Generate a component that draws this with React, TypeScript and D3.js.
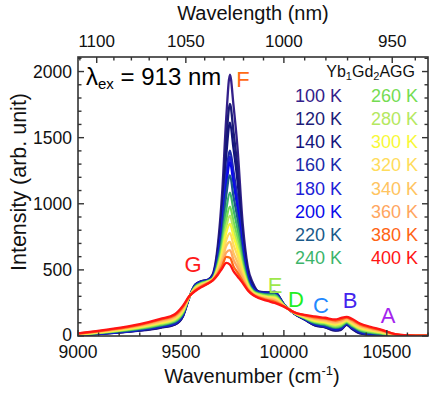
import React from "react";
import * as d3 from "d3";

// ---------- data ----------
const temperatures = [100, 120, 140, 160, 180, 200, 220, 240, 260, 280, 300, 320, 340, 360, 380, 400];

const wavenumbers = [
  9000, 9150, 9300, 9400, 9470, 9510, 9540, 9570, 9600, 9630,
  9655, 9680, 9700, 9720, 9738, 9755, 9775, 9800, 9825, 9850,
  9880, 9920, 9955, 10000, 10050, 10100, 10150, 10200, 10250, 10275,
  10305, 10330, 10370, 10420, 10480, 10540, 10600, 10700,
];

const I100 = [5, 20, 40, 62, 85, 150, 290, 390, 415, 425, 470, 700, 1080, 1650, 1977, 1750, 1420, 850, 520, 400, 335, 330, 335, 240, 170, 125, 80, 65, 40, 45, 85, 55, 20, 8, 3, 0, 0, 0];
const I120 = [5, 21, 42, 64, 87, 152, 290, 389, 414, 424, 462, 662, 989, 1474, 1755, 1548, 1265, 778, 492, 386, 334, 328, 332, 240, 170, 126, 82, 67, 43, 48, 87, 57, 22, 10, 4, 0, 0, 0];
const I140 = [6, 22, 43, 66, 90, 155, 291, 387, 412, 423, 457, 639, 932, 1364, 1614, 1422, 1168, 733, 474, 377, 332, 326, 330, 239, 171, 127, 84, 69, 45, 50, 89, 60, 25, 12, 6, 1, 0, 0];
const I160 = [7, 23, 45, 69, 93, 158, 291, 385, 411, 422, 450, 606, 852, 1210, 1402, 1246, 1032, 670, 450, 364, 330, 324, 327, 238, 171, 129, 87, 72, 49, 54, 91, 63, 28, 14, 7, 2, 1, 0];
const I180 = [7, 24, 47, 71, 95, 160, 291, 384, 409, 421, 448, 597, 829, 1166, 1357, 1196, 993, 652, 443, 360, 329, 322, 324, 238, 171, 130, 89, 75, 51, 57, 93, 65, 30, 16, 9, 2, 1, 0];
const I200 = [8, 25, 49, 74, 99, 164, 292, 382, 407, 420, 447, 590, 812, 1133, 1315, 1158, 964, 638, 438, 358, 327, 319, 321, 237, 172, 131, 92, 77, 55, 60, 95, 68, 33, 19, 10, 3, 1, 0];
const I220 = [8, 27, 51, 77, 103, 168, 292, 379, 405, 418, 443, 571, 766, 1065, 1215, 1057, 886, 602, 424, 350, 324, 316, 316, 236, 172, 133, 95, 81, 59, 65, 98, 72, 37, 22, 12, 3, 1, 0];
const I240 = [10, 29, 55, 82, 109, 174, 293, 375, 402, 416, 439, 552, 721, 957, 1084, 956, 809, 566, 410, 343, 320, 311, 310, 235, 173, 136, 100, 87, 66, 72, 103, 78, 43, 27, 16, 5, 2, 1];
const I260 = [11, 31, 59, 88, 115, 180, 294, 371, 398, 414, 435, 536, 681, 880, 978, 868, 741, 535, 398, 337, 316, 305, 303, 233, 174, 138, 106, 93, 72, 79, 108, 84, 49, 32, 19, 6, 2, 1];
const I280 = [12, 34, 63, 93, 122, 187, 295, 367, 394, 411, 433, 524, 653, 825, 910, 805, 692, 512, 389, 332, 312, 300, 296, 232, 175, 141, 111, 99, 79, 86, 113, 89, 54, 36, 22, 7, 2, 1];
const I300 = [13, 36, 67, 99, 129, 194, 296, 362, 390, 408, 430, 514, 630, 781, 848, 755, 654, 494, 382, 329, 307, 294, 288, 230, 176, 144, 117, 105, 87, 95, 118, 96, 61, 42, 26, 8, 3, 1];
const I320 = [15, 39, 72, 105, 135, 200, 296, 359, 387, 406, 428, 503, 601, 726, 778, 692, 605, 472, 373, 324, 304, 289, 281, 229, 176, 147, 123, 111, 94, 102, 123, 102, 67, 47, 30, 9, 3, 1];
const I340 = [16, 42, 76, 111, 143, 208, 297, 354, 383, 403, 426, 491, 573, 680, 712, 629, 557, 450, 364, 320, 299, 283, 274, 227, 177, 150, 129, 118, 101, 110, 128, 109, 74, 53, 33, 11, 4, 1];
const I360 = [17, 44, 80, 116, 149, 214, 298, 350, 379, 401, 424, 481, 550, 632, 650, 578, 518, 432, 357, 316, 295, 278, 267, 226, 178, 153, 134, 123, 108, 117, 133, 115, 80, 58, 37, 12, 4, 2];
const I380 = [19, 47, 85, 123, 157, 222, 299, 345, 375, 398, 422, 472, 527, 598, 592, 528, 479, 414, 350, 313, 290, 272, 259, 224, 179, 157, 141, 131, 117, 126, 139, 123, 88, 64, 41, 14, 5, 2];
const I400 = [20, 50, 90, 130, 165, 230, 300, 340, 370, 395, 420, 465, 510, 553, 540, 490, 450, 400, 345, 310, 285, 265, 250, 222, 180, 160, 148, 138, 125, 135, 145, 130, 95, 70, 45, 15, 5, 2];

const intensities = [I100, I120, I140, I160, I180, I200, I220, I240, I260, I280, I300, I320, I340, I360, I380, I400];

const curveColors = [
  "#33208a", "#1c1c78", "#14147c", "#1a2aaa", "#1e1ed6", "#0a0aea", "#1a5a8a", "#3cb46a",
  "#74dc52", "#b4e860", "#f8f838", "#ffdc5c", "#ffc460", "#ffa660", "#ff6414", "#ff1414",
];

const xTickLabels = [9000, 9500, 10000, 10500];
const yTickLabels = [0, 500, 1000, 1500, 2000];
const wavelengthTickLabels = [1100, 1050, 1000, 950];

const peakNames = ["A", "B", "C", "D", "E", "F", "G"];
const peakWn = [10506, 10321, 10180, 10059, 9957, 9801, 9559];
const peakI = [98, 212, 174, 219, 325, 1883, 484];
const peakColors = ["#a424ee", "#4424ee", "#2288ff", "#22ee22", "#9ee84a", "#ff6a14", "#ff1a1a"];

// ---------- layout ----------
const W = 433;
const H = 394;
const L = 78, R = 428, T = 57, B = 336;
const FONT = "'Liberation Sans', Arial, Helvetica, sans-serif";
const AX = "#333333";

export default function App() {
  const x = d3.scaleLinear().domain([9000, 10700]).range([L, R]);
  const y = d3.scaleLinear().domain([0, 2110]).range([B, T]);

  const line = d3
    .line<number>()
    .x((_, i) => x(wavenumbers[i]))
    .y((d) => y(d))
    .curve(d3.curveMonotoneX);

  const xMinor = d3.range(9000, 10701, 100);
  const yMinor = d3.range(0, 2101, 100);
  const wlMinor = d3.range(940, 1111, 10);

  return (
    <svg
      width={W}
      height={H}
      style={{ position: "absolute", left: 0, top: 0, background: "#fff" }}
      fontFamily={FONT}
    >
      <defs>
        <clipPath id="plotClip">
          <rect x={L} y={T} width={R - L} height={B - T} />
        </clipPath>
      </defs>

      {/* spectra */}
      <g clipPath="url(#plotClip)">
        {intensities.map((s, k) => (
          <path
            key={temperatures[k]}
            d={line(s) || ""}
            fill="none"
            stroke={curveColors[k]}
            strokeWidth={2.3}
            strokeLinejoin="round"
          />
        ))}
      </g>

      {/* frame */}
      <rect x={L} y={T} width={R - L} height={B - T} fill="none" stroke={AX} strokeWidth={1.6} />

      {/* bottom (wavenumber) ticks */}
      {xMinor.map((v) => {
        const major = v % 500 === 0;
        const len = major ? 6 : 3.5;
        return <line key={"xb" + v} x1={x(v)} x2={x(v)} y1={B} y2={B - len} stroke={AX} strokeWidth={1.4} />;
      })}
      {xTickLabels.map((v) => (
        <text key={"xl" + v} x={x(v)} y={357.5} fontSize={17.5} textAnchor="middle" fill="#111">
          {v}
        </text>
      ))}

      {/* top wavelength axis */}
      {wlMinor.map((v) => {
        const major = v % 50 === 0;
        const len = major ? 6 : 3.5;
        const px = x(1e7 / v);
        return <line key={"wt" + v} x1={px} x2={px} y1={T} y2={T + len} stroke={AX} strokeWidth={1.4} />;
      })}
      {wavelengthTickLabels.map((v) => (
        <text key={"wl" + v} x={x(1e7 / v)} y={46.5} fontSize={17} textAnchor="middle" fill="#111">
          {v}
        </text>
      ))}

      {/* left / right ticks */}
      {yMinor.map((v) => {
        const major = v % 500 === 0;
        const len = major ? 6 : 3.5;
        return (
          <g key={"y" + v}>
            <line x1={L} x2={L + len} y1={y(v)} y2={y(v)} stroke={AX} strokeWidth={1.4} />
            <line x1={R} x2={R - len} y1={y(v)} y2={y(v)} stroke={AX} strokeWidth={1.4} />
          </g>
        );
      })}
      {yTickLabels.map((v) => (
        <text key={"yl" + v} x={72} y={y(v)} dy={v === 0 ? "0.3em" : "0.36em"} fontSize={17.5} textAnchor="end" fill="#111">
          {v}
        </text>
      ))}

      {/* axis titles */}
      <text x={253} y={20} fontSize={20} textAnchor="middle" fill="#111">
        Wavelength (nm)
      </text>
      <text x={252} y={383} fontSize={20} textAnchor="middle" fill="#111">
        Wavenumber (cm
        <tspan fontSize={13} dy={-8}>-1</tspan>
        <tspan dy={8}>)</tspan>
      </text>
      <text
        transform={`translate(26,182) rotate(-90)`}
        fontSize={21.5}
        textAnchor="middle"
        fill="#111"
      >
        Intensity (arb. unit)
      </text>

      {/* excitation annotation */}
      <text x={86} y={85} fontSize={24} fill="#000">
        λ<tspan fontSize={15} dy={4}>ex</tspan>
        <tspan dy={-4}> = 913 nm</tspan>
      </text>

      {/* sample name */}
      <text x={415} y={77} fontSize={16} textAnchor="end" fill="#111">
        Yb<tspan fontSize={11} dy={3}>1</tspan>
        <tspan dy={-3}>Gd</tspan>
        <tspan fontSize={11} dy={3}>2</tspan>
        <tspan dy={-3}>AGG</tspan>
      </text>

      {/* temperature legend */}
      {temperatures.map((t, k) => {
        const col = k < 8 ? 0 : 1;
        const row = k % 8;
        return (
          <text
            key={"lg" + t}
            x={col === 0 ? 342 : 418}
            y={101.7 + row * 23.2}
            fontSize={18}
            textAnchor="end"
            fill={curveColors[k]}
          >
            {t} K
          </text>
        );
      })}

      {/* peak labels */}
      {peakNames.map((n, k) => (
        <text
          key={"pk" + n}
          x={x(peakWn[k])}
          y={y(peakI[k])}
          fontSize={22}
          textAnchor="middle"
          fill={peakColors[k]}
        >
          {n}
        </text>
      ))}
    </svg>
  );
}
